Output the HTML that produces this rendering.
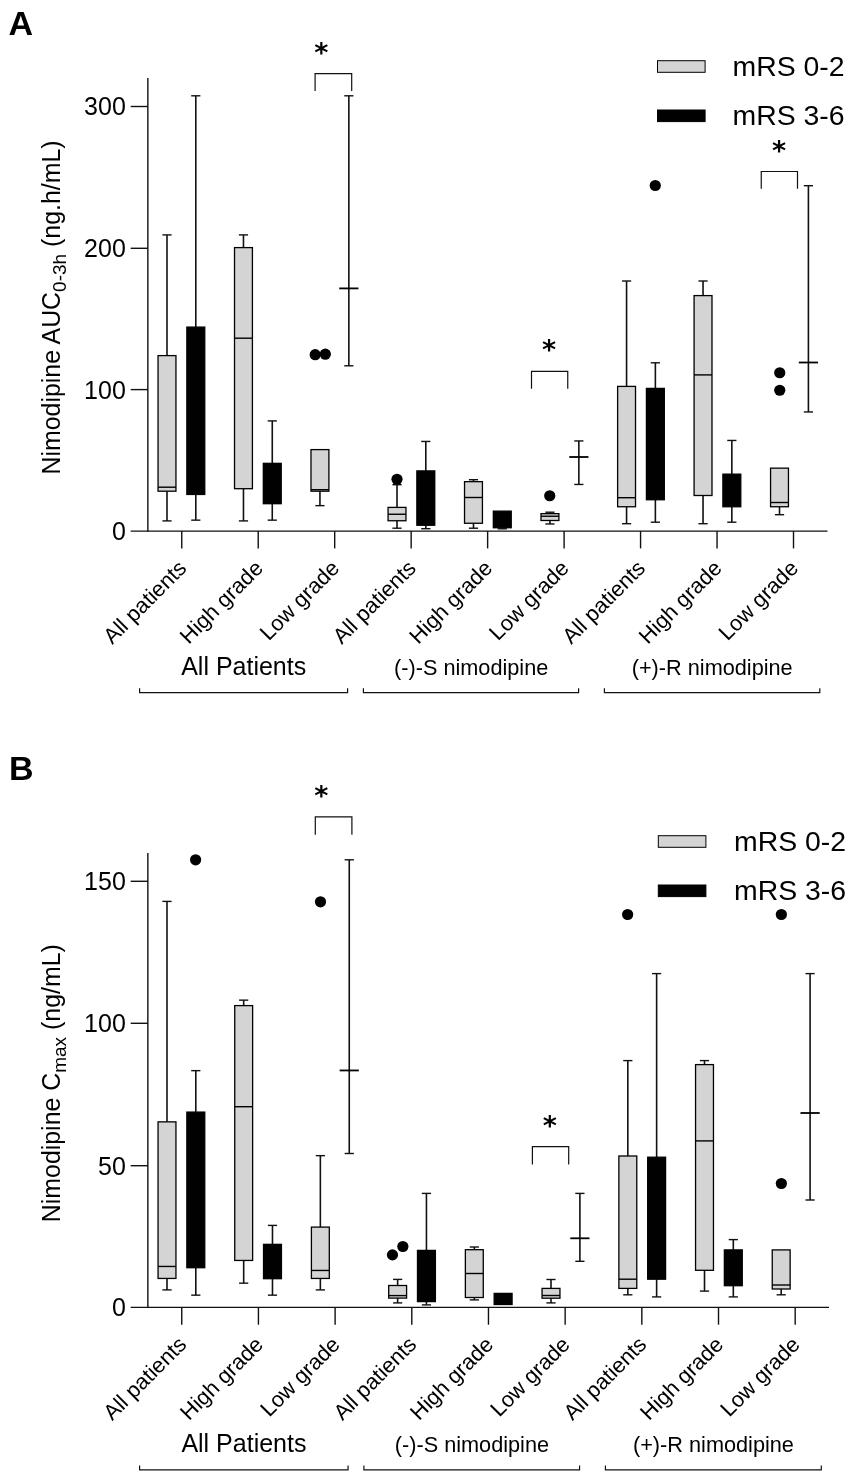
<!DOCTYPE html>
<html lang="en">
<head>
<meta charset="utf-8">
<title>Nimodipine AUC and Cmax box plots</title>
<style>
html,body{margin:0;padding:0;background:#fff;}
svg{display:block;opacity:0.999;will-change:transform;}
svg text{font-family:"Liberation Sans", Arial, Helvetica, sans-serif;fill:#000;}
svg text.star{font-family:"DejaVu Sans","Liberation Sans",sans-serif;}
</style>
</head>
<body>
<svg width="851" height="1477" viewBox="0 0 851 1477">
<rect x="0" y="0" width="851" height="1477" fill="#fff"/>
<g id="panelA">
<text x="8.60" y="34.90" font-size="34" text-anchor="start" font-weight="bold" >A</text>
<line x1="147.85" y1="78.00" x2="147.85" y2="531.80" stroke="#111" stroke-width="1.4" stroke-linecap="butt"/>
<line x1="130.70" y1="531.10" x2="827.50" y2="531.10" stroke="#111" stroke-width="1.4" stroke-linecap="butt"/>
<line x1="130.70" y1="106.50" x2="148.00" y2="106.50" stroke="#111" stroke-width="1.4" stroke-linecap="butt"/>
<text x="125.80" y="115.45" font-size="25" text-anchor="end" font-weight="normal" >300</text>
<line x1="130.70" y1="248.30" x2="148.00" y2="248.30" stroke="#111" stroke-width="1.4" stroke-linecap="butt"/>
<text x="125.80" y="257.25" font-size="25" text-anchor="end" font-weight="normal" >200</text>
<line x1="130.70" y1="389.60" x2="148.00" y2="389.60" stroke="#111" stroke-width="1.4" stroke-linecap="butt"/>
<text x="125.80" y="398.55" font-size="25" text-anchor="end" font-weight="normal" >100</text>
<text x="125.80" y="540.05" font-size="25" text-anchor="end" font-weight="normal" >0</text>
<line x1="181.75" y1="531.10" x2="181.75" y2="548.40" stroke="#111" stroke-width="1.4" stroke-linecap="butt"/>
<line x1="258.22" y1="531.10" x2="258.22" y2="548.40" stroke="#111" stroke-width="1.4" stroke-linecap="butt"/>
<line x1="334.69" y1="531.10" x2="334.69" y2="548.40" stroke="#111" stroke-width="1.4" stroke-linecap="butt"/>
<line x1="411.16" y1="531.10" x2="411.16" y2="548.40" stroke="#111" stroke-width="1.4" stroke-linecap="butt"/>
<line x1="487.63" y1="531.10" x2="487.63" y2="548.40" stroke="#111" stroke-width="1.4" stroke-linecap="butt"/>
<line x1="564.10" y1="531.10" x2="564.10" y2="548.40" stroke="#111" stroke-width="1.4" stroke-linecap="butt"/>
<line x1="640.57" y1="531.10" x2="640.57" y2="548.40" stroke="#111" stroke-width="1.4" stroke-linecap="butt"/>
<line x1="717.04" y1="531.10" x2="717.04" y2="548.40" stroke="#111" stroke-width="1.4" stroke-linecap="butt"/>
<line x1="793.51" y1="531.10" x2="793.51" y2="548.40" stroke="#111" stroke-width="1.4" stroke-linecap="butt"/>
<text transform="translate(60.2,307.5) rotate(-90)" font-size="24.9" text-anchor="middle">Nimodipine AUC<tspan font-size="19" dy="5.5">0-3h</tspan><tspan dy="-5.5"> (ng.h/mL)</tspan></text>
<line x1="167.00" y1="234.90" x2="167.00" y2="355.60" stroke="#111" stroke-width="1.6" stroke-linecap="butt"/>
<line x1="162.40" y1="234.90" x2="171.60" y2="234.90" stroke="#111" stroke-width="1.4" stroke-linecap="butt"/>
<line x1="167.00" y1="491.20" x2="167.00" y2="520.90" stroke="#111" stroke-width="1.6" stroke-linecap="butt"/>
<line x1="162.40" y1="520.90" x2="171.60" y2="520.90" stroke="#111" stroke-width="1.4" stroke-linecap="butt"/>
<rect x="158.05" y="355.60" width="17.90" height="135.60" fill="#d4d4d4" stroke="#000" stroke-width="1.3"/>
<line x1="158.05" y1="487.20" x2="175.95" y2="487.20" stroke="#000" stroke-width="1.4" stroke-linecap="butt"/>
<line x1="195.80" y1="95.80" x2="195.80" y2="327.10" stroke="#111" stroke-width="1.6" stroke-linecap="butt"/>
<line x1="191.20" y1="95.80" x2="200.40" y2="95.80" stroke="#111" stroke-width="1.4" stroke-linecap="butt"/>
<line x1="195.80" y1="494.45" x2="195.80" y2="520.15" stroke="#111" stroke-width="1.6" stroke-linecap="butt"/>
<line x1="191.20" y1="520.15" x2="200.40" y2="520.15" stroke="#111" stroke-width="1.4" stroke-linecap="butt"/>
<rect x="186.85" y="327.10" width="17.90" height="167.35" fill="#000" stroke="#000" stroke-width="1.3"/>
<line x1="243.47" y1="234.90" x2="243.47" y2="247.60" stroke="#111" stroke-width="1.6" stroke-linecap="butt"/>
<line x1="238.87" y1="234.90" x2="248.07" y2="234.90" stroke="#111" stroke-width="1.4" stroke-linecap="butt"/>
<line x1="243.47" y1="488.70" x2="243.47" y2="520.90" stroke="#111" stroke-width="1.6" stroke-linecap="butt"/>
<line x1="238.87" y1="520.90" x2="248.07" y2="520.90" stroke="#111" stroke-width="1.4" stroke-linecap="butt"/>
<rect x="234.52" y="247.60" width="17.90" height="241.10" fill="#d4d4d4" stroke="#000" stroke-width="1.3"/>
<line x1="234.52" y1="338.20" x2="252.42" y2="338.20" stroke="#000" stroke-width="1.4" stroke-linecap="butt"/>
<line x1="272.27" y1="420.90" x2="272.27" y2="463.35" stroke="#111" stroke-width="1.6" stroke-linecap="butt"/>
<line x1="267.67" y1="420.90" x2="276.87" y2="420.90" stroke="#111" stroke-width="1.4" stroke-linecap="butt"/>
<line x1="272.27" y1="503.70" x2="272.27" y2="520.15" stroke="#111" stroke-width="1.6" stroke-linecap="butt"/>
<line x1="267.67" y1="520.15" x2="276.87" y2="520.15" stroke="#111" stroke-width="1.4" stroke-linecap="butt"/>
<rect x="263.32" y="463.35" width="17.90" height="40.35" fill="#000" stroke="#000" stroke-width="1.3"/>
<line x1="319.94" y1="491.20" x2="319.94" y2="505.65" stroke="#111" stroke-width="1.6" stroke-linecap="butt"/>
<line x1="315.34" y1="505.65" x2="324.54" y2="505.65" stroke="#111" stroke-width="1.4" stroke-linecap="butt"/>
<rect x="310.99" y="449.60" width="17.90" height="41.60" fill="#d4d4d4" stroke="#000" stroke-width="1.3"/>
<line x1="310.99" y1="489.70" x2="328.89" y2="489.70" stroke="#000" stroke-width="1.4" stroke-linecap="butt"/>
<line x1="348.84" y1="95.80" x2="348.84" y2="365.80" stroke="#111" stroke-width="1.6" stroke-linecap="butt"/>
<line x1="344.24" y1="95.80" x2="353.44" y2="95.80" stroke="#111" stroke-width="1.4" stroke-linecap="butt"/>
<line x1="344.24" y1="365.80" x2="353.44" y2="365.80" stroke="#111" stroke-width="1.4" stroke-linecap="butt"/>
<line x1="339.24" y1="288.40" x2="358.44" y2="288.40" stroke="#000" stroke-width="1.8" stroke-linecap="butt"/>
<line x1="397.01" y1="484.70" x2="397.01" y2="507.40" stroke="#111" stroke-width="1.6" stroke-linecap="butt"/>
<line x1="392.41" y1="484.70" x2="401.61" y2="484.70" stroke="#111" stroke-width="1.4" stroke-linecap="butt"/>
<line x1="397.01" y1="520.75" x2="397.01" y2="528.20" stroke="#111" stroke-width="1.6" stroke-linecap="butt"/>
<line x1="392.41" y1="528.20" x2="401.61" y2="528.20" stroke="#111" stroke-width="1.4" stroke-linecap="butt"/>
<rect x="388.06" y="507.40" width="17.90" height="13.35" fill="#d4d4d4" stroke="#000" stroke-width="1.3"/>
<line x1="388.06" y1="514.25" x2="405.96" y2="514.25" stroke="#000" stroke-width="1.4" stroke-linecap="butt"/>
<line x1="425.81" y1="441.45" x2="425.81" y2="470.90" stroke="#111" stroke-width="1.6" stroke-linecap="butt"/>
<line x1="421.21" y1="441.45" x2="430.41" y2="441.45" stroke="#111" stroke-width="1.4" stroke-linecap="butt"/>
<line x1="425.81" y1="525.25" x2="425.81" y2="528.70" stroke="#111" stroke-width="1.6" stroke-linecap="butt"/>
<line x1="421.21" y1="528.70" x2="430.41" y2="528.70" stroke="#111" stroke-width="1.4" stroke-linecap="butt"/>
<rect x="416.86" y="470.90" width="17.90" height="54.35" fill="#000" stroke="#000" stroke-width="1.3"/>
<line x1="473.48" y1="479.70" x2="473.48" y2="481.65" stroke="#111" stroke-width="1.6" stroke-linecap="butt"/>
<line x1="468.88" y1="479.70" x2="478.08" y2="479.70" stroke="#111" stroke-width="1.4" stroke-linecap="butt"/>
<line x1="473.48" y1="523.25" x2="473.48" y2="528.20" stroke="#111" stroke-width="1.6" stroke-linecap="butt"/>
<line x1="468.88" y1="528.20" x2="478.08" y2="528.20" stroke="#111" stroke-width="1.4" stroke-linecap="butt"/>
<rect x="464.53" y="481.65" width="17.90" height="41.60" fill="#d4d4d4" stroke="#000" stroke-width="1.3"/>
<line x1="464.53" y1="497.50" x2="482.43" y2="497.50" stroke="#000" stroke-width="1.4" stroke-linecap="butt"/>
<line x1="502.28" y1="527.75" x2="502.28" y2="528.80" stroke="#111" stroke-width="1.6" stroke-linecap="butt"/>
<line x1="497.68" y1="528.80" x2="506.88" y2="528.80" stroke="#111" stroke-width="1.4" stroke-linecap="butt"/>
<rect x="493.33" y="511.15" width="17.90" height="16.60" fill="#000" stroke="#000" stroke-width="1.3"/>
<line x1="549.95" y1="512.20" x2="549.95" y2="513.65" stroke="#111" stroke-width="1.6" stroke-linecap="butt"/>
<line x1="545.35" y1="512.20" x2="554.55" y2="512.20" stroke="#111" stroke-width="1.4" stroke-linecap="butt"/>
<line x1="549.95" y1="520.50" x2="549.95" y2="523.95" stroke="#111" stroke-width="1.6" stroke-linecap="butt"/>
<line x1="545.35" y1="523.95" x2="554.55" y2="523.95" stroke="#111" stroke-width="1.4" stroke-linecap="butt"/>
<rect x="541.00" y="513.65" width="17.90" height="6.85" fill="#d4d4d4" stroke="#000" stroke-width="1.3"/>
<line x1="541.00" y1="516.25" x2="558.90" y2="516.25" stroke="#000" stroke-width="1.4" stroke-linecap="butt"/>
<line x1="578.85" y1="440.95" x2="578.85" y2="484.45" stroke="#111" stroke-width="1.6" stroke-linecap="butt"/>
<line x1="574.25" y1="440.95" x2="583.45" y2="440.95" stroke="#111" stroke-width="1.4" stroke-linecap="butt"/>
<line x1="574.25" y1="484.45" x2="583.45" y2="484.45" stroke="#111" stroke-width="1.4" stroke-linecap="butt"/>
<line x1="569.25" y1="457.00" x2="588.45" y2="457.00" stroke="#000" stroke-width="1.8" stroke-linecap="butt"/>
<line x1="626.57" y1="281.00" x2="626.57" y2="386.40" stroke="#111" stroke-width="1.6" stroke-linecap="butt"/>
<line x1="621.97" y1="281.00" x2="631.17" y2="281.00" stroke="#111" stroke-width="1.4" stroke-linecap="butt"/>
<line x1="626.57" y1="506.75" x2="626.57" y2="523.70" stroke="#111" stroke-width="1.6" stroke-linecap="butt"/>
<line x1="621.97" y1="523.70" x2="631.17" y2="523.70" stroke="#111" stroke-width="1.4" stroke-linecap="butt"/>
<rect x="617.62" y="386.40" width="17.90" height="120.35" fill="#d4d4d4" stroke="#000" stroke-width="1.3"/>
<line x1="617.62" y1="497.70" x2="635.52" y2="497.70" stroke="#000" stroke-width="1.4" stroke-linecap="butt"/>
<line x1="655.37" y1="362.80" x2="655.37" y2="388.40" stroke="#111" stroke-width="1.6" stroke-linecap="butt"/>
<line x1="650.77" y1="362.80" x2="659.97" y2="362.80" stroke="#111" stroke-width="1.4" stroke-linecap="butt"/>
<line x1="655.37" y1="499.75" x2="655.37" y2="522.20" stroke="#111" stroke-width="1.6" stroke-linecap="butt"/>
<line x1="650.77" y1="522.20" x2="659.97" y2="522.20" stroke="#111" stroke-width="1.4" stroke-linecap="butt"/>
<rect x="646.42" y="388.40" width="17.90" height="111.35" fill="#000" stroke="#000" stroke-width="1.3"/>
<line x1="703.04" y1="281.00" x2="703.04" y2="295.60" stroke="#111" stroke-width="1.6" stroke-linecap="butt"/>
<line x1="698.44" y1="281.00" x2="707.64" y2="281.00" stroke="#111" stroke-width="1.4" stroke-linecap="butt"/>
<line x1="703.04" y1="495.50" x2="703.04" y2="523.70" stroke="#111" stroke-width="1.6" stroke-linecap="butt"/>
<line x1="698.44" y1="523.70" x2="707.64" y2="523.70" stroke="#111" stroke-width="1.4" stroke-linecap="butt"/>
<rect x="694.09" y="295.60" width="17.90" height="199.90" fill="#d4d4d4" stroke="#000" stroke-width="1.3"/>
<line x1="694.09" y1="374.90" x2="711.99" y2="374.90" stroke="#000" stroke-width="1.4" stroke-linecap="butt"/>
<line x1="731.84" y1="440.45" x2="731.84" y2="474.15" stroke="#111" stroke-width="1.6" stroke-linecap="butt"/>
<line x1="727.24" y1="440.45" x2="736.44" y2="440.45" stroke="#111" stroke-width="1.4" stroke-linecap="butt"/>
<line x1="731.84" y1="506.75" x2="731.84" y2="522.20" stroke="#111" stroke-width="1.6" stroke-linecap="butt"/>
<line x1="727.24" y1="522.20" x2="736.44" y2="522.20" stroke="#111" stroke-width="1.4" stroke-linecap="butt"/>
<rect x="722.89" y="474.15" width="17.90" height="32.60" fill="#000" stroke="#000" stroke-width="1.3"/>
<line x1="779.51" y1="506.75" x2="779.51" y2="514.70" stroke="#111" stroke-width="1.6" stroke-linecap="butt"/>
<line x1="774.91" y1="514.70" x2="784.11" y2="514.70" stroke="#111" stroke-width="1.4" stroke-linecap="butt"/>
<rect x="770.56" y="468.15" width="17.90" height="38.60" fill="#d4d4d4" stroke="#000" stroke-width="1.3"/>
<line x1="770.56" y1="502.50" x2="788.46" y2="502.50" stroke="#000" stroke-width="1.4" stroke-linecap="butt"/>
<line x1="808.41" y1="185.70" x2="808.41" y2="411.95" stroke="#111" stroke-width="1.6" stroke-linecap="butt"/>
<line x1="803.81" y1="185.70" x2="813.01" y2="185.70" stroke="#111" stroke-width="1.4" stroke-linecap="butt"/>
<line x1="803.81" y1="411.95" x2="813.01" y2="411.95" stroke="#111" stroke-width="1.4" stroke-linecap="butt"/>
<line x1="798.81" y1="362.50" x2="818.01" y2="362.50" stroke="#000" stroke-width="1.8" stroke-linecap="butt"/>
<circle cx="315.20" cy="354.70" r="5.6" fill="#000"/>
<circle cx="325.30" cy="354.20" r="5.6" fill="#000"/>
<circle cx="397.00" cy="479.25" r="5.6" fill="#000"/>
<circle cx="549.75" cy="495.75" r="5.6" fill="#000"/>
<circle cx="655.25" cy="185.50" r="5.6" fill="#000"/>
<circle cx="779.75" cy="372.75" r="5.6" fill="#000"/>
<circle cx="779.75" cy="390.25" r="5.6" fill="#000"/>
<polyline points="315.10,91.00 315.10,73.60 351.70,73.60 351.70,91.00" fill="none" stroke="#111" stroke-width="1.2"/>
<polyline points="531.50,388.75 531.50,371.30 567.75,371.30 567.75,388.75" fill="none" stroke="#111" stroke-width="1.2"/>
<polyline points="761.25,188.75 761.25,171.50 797.50,171.50 797.50,188.75" fill="none" stroke="#111" stroke-width="1.2"/>
<text x="321.30" y="61.90" font-size="27" text-anchor="middle" font-weight="bold" class="star">*</text>
<text x="549.00" y="359.20" font-size="27" text-anchor="middle" font-weight="bold" class="star">*</text>
<text x="779.00" y="159.90" font-size="27" text-anchor="middle" font-weight="bold" class="star">*</text>
<text transform="translate(187.75,569.50) rotate(-45)" font-size="21.8" text-anchor="end">All patients</text>
<text transform="translate(264.22,569.50) rotate(-45)" font-size="21.8" text-anchor="end">High grade</text>
<text transform="translate(340.69,569.50) rotate(-45)" font-size="21.8" text-anchor="end">Low grade</text>
<text transform="translate(417.16,569.50) rotate(-45)" font-size="21.8" text-anchor="end">All patients</text>
<text transform="translate(493.63,569.50) rotate(-45)" font-size="21.8" text-anchor="end">High grade</text>
<text transform="translate(570.10,569.50) rotate(-45)" font-size="21.8" text-anchor="end">Low grade</text>
<text transform="translate(646.57,569.50) rotate(-45)" font-size="21.8" text-anchor="end">All patients</text>
<text transform="translate(723.04,569.50) rotate(-45)" font-size="21.8" text-anchor="end">High grade</text>
<text transform="translate(799.51,569.50) rotate(-45)" font-size="21.8" text-anchor="end">Low grade</text>
<text x="243.70" y="674.50" font-size="25" text-anchor="middle" font-weight="normal" >All Patients</text>
<text x="471.20" y="674.50" font-size="21.7" text-anchor="middle" font-weight="normal" >(-)-S nimodipine</text>
<text x="712.20" y="674.50" font-size="21.7" text-anchor="middle" font-weight="normal" >(+)-R nimodipine</text>
<polyline points="139.60,688.30 139.60,692.60 347.60,692.60 347.60,688.30" fill="none" stroke="#111" stroke-width="1.2"/>
<polyline points="363.40,688.30 363.40,692.60 578.60,692.60 578.60,688.30" fill="none" stroke="#111" stroke-width="1.2"/>
<polyline points="604.40,688.30 604.40,692.60 819.80,692.60 819.80,688.30" fill="none" stroke="#111" stroke-width="1.2"/>
<rect x="657.50" y="60.70" width="47.6" height="11.6" fill="#d4d4d4" stroke="#000" stroke-width="1"/>
<rect x="657.50" y="110.00" width="47.6" height="11.6" fill="#000" stroke="#000" stroke-width="1"/>
<text x="732.60" y="75.90" font-size="28.4" text-anchor="start" font-weight="normal" >mRS 0-2</text>
<text x="732.60" y="125.40" font-size="28.4" text-anchor="start" font-weight="normal" >mRS 3-6</text>
</g><g id="panelB">
<text x="8.90" y="780.00" font-size="34" text-anchor="start" font-weight="bold" >B</text>
<line x1="147.85" y1="853.00" x2="147.85" y2="1308.10" stroke="#111" stroke-width="1.4" stroke-linecap="butt"/>
<line x1="130.70" y1="1307.40" x2="829.00" y2="1307.40" stroke="#111" stroke-width="1.4" stroke-linecap="butt"/>
<line x1="130.70" y1="881.30" x2="148.00" y2="881.30" stroke="#111" stroke-width="1.4" stroke-linecap="butt"/>
<text x="125.80" y="890.25" font-size="25" text-anchor="end" font-weight="normal" >150</text>
<line x1="130.70" y1="1023.30" x2="148.00" y2="1023.30" stroke="#111" stroke-width="1.4" stroke-linecap="butt"/>
<text x="125.80" y="1032.25" font-size="25" text-anchor="end" font-weight="normal" >100</text>
<line x1="130.70" y1="1165.70" x2="148.00" y2="1165.70" stroke="#111" stroke-width="1.4" stroke-linecap="butt"/>
<text x="125.80" y="1174.65" font-size="25" text-anchor="end" font-weight="normal" >50</text>
<text x="125.80" y="1316.35" font-size="25" text-anchor="end" font-weight="normal" >0</text>
<line x1="181.75" y1="1307.40" x2="181.75" y2="1324.70" stroke="#111" stroke-width="1.4" stroke-linecap="butt"/>
<line x1="258.43" y1="1307.40" x2="258.43" y2="1324.70" stroke="#111" stroke-width="1.4" stroke-linecap="butt"/>
<line x1="335.11" y1="1307.40" x2="335.11" y2="1324.70" stroke="#111" stroke-width="1.4" stroke-linecap="butt"/>
<line x1="411.79" y1="1307.40" x2="411.79" y2="1324.70" stroke="#111" stroke-width="1.4" stroke-linecap="butt"/>
<line x1="488.47" y1="1307.40" x2="488.47" y2="1324.70" stroke="#111" stroke-width="1.4" stroke-linecap="butt"/>
<line x1="565.15" y1="1307.40" x2="565.15" y2="1324.70" stroke="#111" stroke-width="1.4" stroke-linecap="butt"/>
<line x1="641.83" y1="1307.40" x2="641.83" y2="1324.70" stroke="#111" stroke-width="1.4" stroke-linecap="butt"/>
<line x1="718.51" y1="1307.40" x2="718.51" y2="1324.70" stroke="#111" stroke-width="1.4" stroke-linecap="butt"/>
<line x1="795.19" y1="1307.40" x2="795.19" y2="1324.70" stroke="#111" stroke-width="1.4" stroke-linecap="butt"/>
<text transform="translate(60.2,1083.2) rotate(-90)" font-size="24.9" text-anchor="middle">Nimodipine C<tspan font-size="19" dy="5.5">max</tspan><tspan dy="-5.5"> (ng/mL)</tspan></text>
<line x1="167.00" y1="901.40" x2="167.00" y2="1121.85" stroke="#111" stroke-width="1.6" stroke-linecap="butt"/>
<line x1="162.40" y1="901.40" x2="171.60" y2="901.40" stroke="#111" stroke-width="1.4" stroke-linecap="butt"/>
<line x1="167.00" y1="1278.45" x2="167.00" y2="1289.90" stroke="#111" stroke-width="1.6" stroke-linecap="butt"/>
<line x1="162.40" y1="1289.90" x2="171.60" y2="1289.90" stroke="#111" stroke-width="1.4" stroke-linecap="butt"/>
<rect x="158.05" y="1121.85" width="17.90" height="156.60" fill="#d4d4d4" stroke="#000" stroke-width="1.3"/>
<line x1="158.05" y1="1266.45" x2="175.95" y2="1266.45" stroke="#000" stroke-width="1.4" stroke-linecap="butt"/>
<line x1="195.80" y1="1070.65" x2="195.80" y2="1112.10" stroke="#111" stroke-width="1.6" stroke-linecap="butt"/>
<line x1="191.20" y1="1070.65" x2="200.40" y2="1070.65" stroke="#111" stroke-width="1.4" stroke-linecap="butt"/>
<line x1="195.80" y1="1267.70" x2="195.80" y2="1295.15" stroke="#111" stroke-width="1.6" stroke-linecap="butt"/>
<line x1="191.20" y1="1295.15" x2="200.40" y2="1295.15" stroke="#111" stroke-width="1.4" stroke-linecap="butt"/>
<rect x="186.85" y="1112.10" width="17.90" height="155.60" fill="#000" stroke="#000" stroke-width="1.3"/>
<line x1="243.68" y1="1000.15" x2="243.68" y2="1005.60" stroke="#111" stroke-width="1.6" stroke-linecap="butt"/>
<line x1="239.08" y1="1000.15" x2="248.28" y2="1000.15" stroke="#111" stroke-width="1.4" stroke-linecap="butt"/>
<line x1="243.68" y1="1260.45" x2="243.68" y2="1283.15" stroke="#111" stroke-width="1.6" stroke-linecap="butt"/>
<line x1="239.08" y1="1283.15" x2="248.28" y2="1283.15" stroke="#111" stroke-width="1.4" stroke-linecap="butt"/>
<rect x="234.73" y="1005.60" width="17.90" height="254.85" fill="#d4d4d4" stroke="#000" stroke-width="1.3"/>
<line x1="234.73" y1="1106.70" x2="252.63" y2="1106.70" stroke="#000" stroke-width="1.4" stroke-linecap="butt"/>
<line x1="272.48" y1="1225.40" x2="272.48" y2="1244.35" stroke="#111" stroke-width="1.6" stroke-linecap="butt"/>
<line x1="267.88" y1="1225.40" x2="277.08" y2="1225.40" stroke="#111" stroke-width="1.4" stroke-linecap="butt"/>
<line x1="272.48" y1="1278.70" x2="272.48" y2="1295.15" stroke="#111" stroke-width="1.6" stroke-linecap="butt"/>
<line x1="267.88" y1="1295.15" x2="277.08" y2="1295.15" stroke="#111" stroke-width="1.4" stroke-linecap="butt"/>
<rect x="263.53" y="1244.35" width="17.90" height="34.35" fill="#000" stroke="#000" stroke-width="1.3"/>
<line x1="320.36" y1="1155.65" x2="320.36" y2="1227.10" stroke="#111" stroke-width="1.6" stroke-linecap="butt"/>
<line x1="315.76" y1="1155.65" x2="324.96" y2="1155.65" stroke="#111" stroke-width="1.4" stroke-linecap="butt"/>
<line x1="320.36" y1="1278.45" x2="320.36" y2="1289.90" stroke="#111" stroke-width="1.6" stroke-linecap="butt"/>
<line x1="315.76" y1="1289.90" x2="324.96" y2="1289.90" stroke="#111" stroke-width="1.4" stroke-linecap="butt"/>
<rect x="311.41" y="1227.10" width="17.90" height="51.35" fill="#d4d4d4" stroke="#000" stroke-width="1.3"/>
<line x1="311.41" y1="1270.45" x2="329.31" y2="1270.45" stroke="#000" stroke-width="1.4" stroke-linecap="butt"/>
<line x1="349.26" y1="859.80" x2="349.26" y2="1153.50" stroke="#111" stroke-width="1.6" stroke-linecap="butt"/>
<line x1="344.66" y1="859.80" x2="353.86" y2="859.80" stroke="#111" stroke-width="1.4" stroke-linecap="butt"/>
<line x1="344.66" y1="1153.50" x2="353.86" y2="1153.50" stroke="#111" stroke-width="1.4" stroke-linecap="butt"/>
<line x1="339.66" y1="1070.45" x2="358.86" y2="1070.45" stroke="#000" stroke-width="1.8" stroke-linecap="butt"/>
<line x1="397.64" y1="1279.40" x2="397.64" y2="1285.50" stroke="#111" stroke-width="1.6" stroke-linecap="butt"/>
<line x1="393.04" y1="1279.40" x2="402.24" y2="1279.40" stroke="#111" stroke-width="1.4" stroke-linecap="butt"/>
<line x1="397.64" y1="1298.10" x2="397.64" y2="1302.90" stroke="#111" stroke-width="1.6" stroke-linecap="butt"/>
<line x1="393.04" y1="1302.90" x2="402.24" y2="1302.90" stroke="#111" stroke-width="1.4" stroke-linecap="butt"/>
<rect x="388.69" y="1285.50" width="17.90" height="12.60" fill="#d4d4d4" stroke="#000" stroke-width="1.3"/>
<line x1="388.69" y1="1295.60" x2="406.59" y2="1295.60" stroke="#000" stroke-width="1.4" stroke-linecap="butt"/>
<line x1="426.44" y1="1193.40" x2="426.44" y2="1250.40" stroke="#111" stroke-width="1.6" stroke-linecap="butt"/>
<line x1="421.84" y1="1193.40" x2="431.04" y2="1193.40" stroke="#111" stroke-width="1.4" stroke-linecap="butt"/>
<line x1="426.44" y1="1301.60" x2="426.44" y2="1304.90" stroke="#111" stroke-width="1.6" stroke-linecap="butt"/>
<line x1="421.84" y1="1304.90" x2="431.04" y2="1304.90" stroke="#111" stroke-width="1.4" stroke-linecap="butt"/>
<rect x="417.49" y="1250.40" width="17.90" height="51.20" fill="#000" stroke="#000" stroke-width="1.3"/>
<line x1="474.32" y1="1247.00" x2="474.32" y2="1249.70" stroke="#111" stroke-width="1.6" stroke-linecap="butt"/>
<line x1="469.72" y1="1247.00" x2="478.92" y2="1247.00" stroke="#111" stroke-width="1.4" stroke-linecap="butt"/>
<line x1="474.32" y1="1297.50" x2="474.32" y2="1299.90" stroke="#111" stroke-width="1.6" stroke-linecap="butt"/>
<line x1="469.72" y1="1299.90" x2="478.92" y2="1299.90" stroke="#111" stroke-width="1.4" stroke-linecap="butt"/>
<rect x="465.37" y="1249.70" width="17.90" height="47.80" fill="#d4d4d4" stroke="#000" stroke-width="1.3"/>
<line x1="465.37" y1="1273.50" x2="483.27" y2="1273.50" stroke="#000" stroke-width="1.4" stroke-linecap="butt"/>
<rect x="494.17" y="1293.40" width="17.90" height="11.10" fill="#000" stroke="#000" stroke-width="1.3"/>
<line x1="551.00" y1="1279.50" x2="551.00" y2="1288.40" stroke="#111" stroke-width="1.6" stroke-linecap="butt"/>
<line x1="546.40" y1="1279.50" x2="555.60" y2="1279.50" stroke="#111" stroke-width="1.4" stroke-linecap="butt"/>
<line x1="551.00" y1="1298.20" x2="551.00" y2="1302.90" stroke="#111" stroke-width="1.6" stroke-linecap="butt"/>
<line x1="546.40" y1="1302.90" x2="555.60" y2="1302.90" stroke="#111" stroke-width="1.4" stroke-linecap="butt"/>
<rect x="542.05" y="1288.40" width="17.90" height="9.80" fill="#d4d4d4" stroke="#000" stroke-width="1.3"/>
<line x1="542.05" y1="1295.50" x2="559.95" y2="1295.50" stroke="#000" stroke-width="1.4" stroke-linecap="butt"/>
<line x1="579.90" y1="1193.40" x2="579.90" y2="1261.30" stroke="#111" stroke-width="1.6" stroke-linecap="butt"/>
<line x1="575.30" y1="1193.40" x2="584.50" y2="1193.40" stroke="#111" stroke-width="1.4" stroke-linecap="butt"/>
<line x1="575.30" y1="1261.30" x2="584.50" y2="1261.30" stroke="#111" stroke-width="1.4" stroke-linecap="butt"/>
<line x1="570.30" y1="1238.30" x2="589.50" y2="1238.30" stroke="#000" stroke-width="1.8" stroke-linecap="butt"/>
<line x1="627.83" y1="1060.60" x2="627.83" y2="1156.00" stroke="#111" stroke-width="1.6" stroke-linecap="butt"/>
<line x1="623.23" y1="1060.60" x2="632.43" y2="1060.60" stroke="#111" stroke-width="1.4" stroke-linecap="butt"/>
<line x1="627.83" y1="1288.40" x2="627.83" y2="1294.80" stroke="#111" stroke-width="1.6" stroke-linecap="butt"/>
<line x1="623.23" y1="1294.80" x2="632.43" y2="1294.80" stroke="#111" stroke-width="1.4" stroke-linecap="butt"/>
<rect x="618.88" y="1156.00" width="17.90" height="132.40" fill="#d4d4d4" stroke="#000" stroke-width="1.3"/>
<line x1="618.88" y1="1279.20" x2="636.78" y2="1279.20" stroke="#000" stroke-width="1.4" stroke-linecap="butt"/>
<line x1="656.63" y1="973.60" x2="656.63" y2="1157.20" stroke="#111" stroke-width="1.6" stroke-linecap="butt"/>
<line x1="652.03" y1="973.60" x2="661.23" y2="973.60" stroke="#111" stroke-width="1.4" stroke-linecap="butt"/>
<line x1="656.63" y1="1279.20" x2="656.63" y2="1296.90" stroke="#111" stroke-width="1.6" stroke-linecap="butt"/>
<line x1="652.03" y1="1296.90" x2="661.23" y2="1296.90" stroke="#111" stroke-width="1.4" stroke-linecap="butt"/>
<rect x="647.68" y="1157.20" width="17.90" height="122.00" fill="#000" stroke="#000" stroke-width="1.3"/>
<line x1="704.51" y1="1060.60" x2="704.51" y2="1064.60" stroke="#111" stroke-width="1.6" stroke-linecap="butt"/>
<line x1="699.91" y1="1060.60" x2="709.11" y2="1060.60" stroke="#111" stroke-width="1.4" stroke-linecap="butt"/>
<line x1="704.51" y1="1270.30" x2="704.51" y2="1291.10" stroke="#111" stroke-width="1.6" stroke-linecap="butt"/>
<line x1="699.91" y1="1291.10" x2="709.11" y2="1291.10" stroke="#111" stroke-width="1.4" stroke-linecap="butt"/>
<rect x="695.56" y="1064.60" width="17.90" height="205.70" fill="#d4d4d4" stroke="#000" stroke-width="1.3"/>
<line x1="695.56" y1="1140.90" x2="713.46" y2="1140.90" stroke="#000" stroke-width="1.4" stroke-linecap="butt"/>
<line x1="733.31" y1="1239.60" x2="733.31" y2="1249.90" stroke="#111" stroke-width="1.6" stroke-linecap="butt"/>
<line x1="728.71" y1="1239.60" x2="737.91" y2="1239.60" stroke="#111" stroke-width="1.4" stroke-linecap="butt"/>
<line x1="733.31" y1="1285.70" x2="733.31" y2="1296.90" stroke="#111" stroke-width="1.6" stroke-linecap="butt"/>
<line x1="728.71" y1="1296.90" x2="737.91" y2="1296.90" stroke="#111" stroke-width="1.4" stroke-linecap="butt"/>
<rect x="724.36" y="1249.90" width="17.90" height="35.80" fill="#000" stroke="#000" stroke-width="1.3"/>
<line x1="781.19" y1="1289.00" x2="781.19" y2="1294.80" stroke="#111" stroke-width="1.6" stroke-linecap="butt"/>
<line x1="776.59" y1="1294.80" x2="785.79" y2="1294.80" stroke="#111" stroke-width="1.4" stroke-linecap="butt"/>
<rect x="772.24" y="1249.90" width="17.90" height="39.10" fill="#d4d4d4" stroke="#000" stroke-width="1.3"/>
<line x1="772.24" y1="1285.00" x2="790.14" y2="1285.00" stroke="#000" stroke-width="1.4" stroke-linecap="butt"/>
<line x1="810.09" y1="973.60" x2="810.09" y2="1200.00" stroke="#111" stroke-width="1.6" stroke-linecap="butt"/>
<line x1="805.49" y1="973.60" x2="814.69" y2="973.60" stroke="#111" stroke-width="1.4" stroke-linecap="butt"/>
<line x1="805.49" y1="1200.00" x2="814.69" y2="1200.00" stroke="#111" stroke-width="1.4" stroke-linecap="butt"/>
<line x1="800.49" y1="1113.00" x2="819.69" y2="1113.00" stroke="#000" stroke-width="1.8" stroke-linecap="butt"/>
<circle cx="195.60" cy="859.80" r="5.6" fill="#000"/>
<circle cx="320.50" cy="901.80" r="5.6" fill="#000"/>
<circle cx="392.45" cy="1254.90" r="5.6" fill="#000"/>
<circle cx="402.85" cy="1246.50" r="5.6" fill="#000"/>
<circle cx="627.65" cy="914.50" r="5.6" fill="#000"/>
<circle cx="781.35" cy="914.50" r="5.6" fill="#000"/>
<circle cx="781.35" cy="1183.50" r="5.6" fill="#000"/>
<polyline points="315.30,834.80 315.30,816.80 351.90,816.80 351.90,834.80" fill="none" stroke="#111" stroke-width="1.2"/>
<polyline points="532.40,1164.50 532.40,1146.70 568.70,1146.70 568.70,1164.50" fill="none" stroke="#111" stroke-width="1.2"/>
<text x="321.30" y="805.20" font-size="27" text-anchor="middle" font-weight="bold" class="star">*</text>
<text x="549.80" y="1135.10" font-size="27" text-anchor="middle" font-weight="bold" class="star">*</text>
<text transform="translate(187.75,1345.80) rotate(-45)" font-size="21.8" text-anchor="end">All patients</text>
<text transform="translate(264.43,1345.80) rotate(-45)" font-size="21.8" text-anchor="end">High grade</text>
<text transform="translate(341.11,1345.80) rotate(-45)" font-size="21.8" text-anchor="end">Low grade</text>
<text transform="translate(417.79,1345.80) rotate(-45)" font-size="21.8" text-anchor="end">All patients</text>
<text transform="translate(494.47,1345.80) rotate(-45)" font-size="21.8" text-anchor="end">High grade</text>
<text transform="translate(571.15,1345.80) rotate(-45)" font-size="21.8" text-anchor="end">Low grade</text>
<text transform="translate(647.83,1345.80) rotate(-45)" font-size="21.8" text-anchor="end">All patients</text>
<text transform="translate(724.51,1345.80) rotate(-45)" font-size="21.8" text-anchor="end">High grade</text>
<text transform="translate(801.19,1345.80) rotate(-45)" font-size="21.8" text-anchor="end">Low grade</text>
<text x="243.93" y="1451.80" font-size="25" text-anchor="middle" font-weight="normal" >All Patients</text>
<text x="471.93" y="1451.80" font-size="21.7" text-anchor="middle" font-weight="normal" >(-)-S nimodipine</text>
<text x="713.46" y="1451.80" font-size="21.7" text-anchor="middle" font-weight="normal" >(+)-R nimodipine</text>
<polyline points="139.60,1465.60 139.60,1469.90 348.06,1469.90 348.06,1465.60" fill="none" stroke="#111" stroke-width="1.2"/>
<polyline points="363.89,1465.60 363.89,1469.90 579.57,1469.90 579.57,1465.60" fill="none" stroke="#111" stroke-width="1.2"/>
<polyline points="605.42,1465.60 605.42,1469.90 821.30,1469.90 821.30,1465.60" fill="none" stroke="#111" stroke-width="1.2"/>
<rect x="658.30" y="835.70" width="47.6" height="11.6" fill="#d4d4d4" stroke="#000" stroke-width="1"/>
<rect x="658.30" y="885.00" width="47.6" height="11.6" fill="#000" stroke="#000" stroke-width="1"/>
<text x="734.00" y="850.90" font-size="28.4" text-anchor="start" font-weight="normal" >mRS 0-2</text>
<text x="734.00" y="900.40" font-size="28.4" text-anchor="start" font-weight="normal" >mRS 3-6</text>
</g>
</svg>
</body>
</html>
